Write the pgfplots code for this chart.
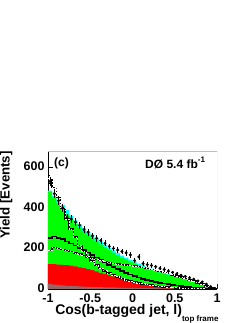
\documentclass[border=0pt]{standalone}
\usepackage{fontspec}
\setmainfont{Liberation Sans}
\usepackage{pgfplots}
\usepackage{pgfplotstable}
\pgfplotsset{compat=1.18}
\definecolor{rgreen}{RGB}{0,255,0}
\definecolor{rred}{RGB}{255,0,0}
\definecolor{rcyan}{RGB}{0,255,255}
\definecolor{rbrown}{RGB}{150,100,100}
\definecolor{framegray}{RGB}{190,190,190}

\pgfplotstableread{
x T G R B L1 L2 L3
-1.00 485 480 122 25 545 250 190
-0.95 460 452 122 22 500 258 205
-0.90 440 425 120 20 450 252 200
-0.85 415 395 119 18 400 245 195
-0.80 390 368 118 16 345 235 190
-0.75 362 342 115 15 295 225 185
-0.70 338 320 112 14 255 214 178
-0.65 318 302 107 13 215 203 172
-0.60 300 285 103 12 185 192 165
-0.55 283 269 98 11 160 180 158
-0.50 268 255 93 10 138 168 152
-0.45 250 237 87 9.5 118 155 146
-0.40 232 220 80 9 102 143 140
-0.35 218 206 74 8.5 90 130 135
-0.30 204 193 68 8 78 118 130
-0.25 190 179 62 7.5 68 108 126
-0.20 177 167 57 7 60 98 122
-0.15 165 155 52 6.5 52 89 120
-0.10 155 146 46 6 45 80 118
-0.05 144 135 41 5.5 40 72 116
0.00 134 126 36 5 35 65 114
0.05 125 117 32 4.8 30 57 110
0.10 117 110 27 4.5 26 50 106
0.15 108 101 23 4.2 22 45 102
0.20 100 93 20 4 19 40 97
0.25 94 88 17 3.7 16 35 92
0.30 88 82 14 3.4 13 31 87
0.35 82 76 11 3.1 11 27 82
0.40 76 71 9 2.8 9 24 76
0.45 70 65 7 2.5 7 20 70
0.50 64 60 5 2.2 6 17 64
0.55 58 54 4 2 5 14 58
0.60 52 48 3 1.7 4 12 51
0.65 46 43 2 1.5 3 9 45
0.70 40 37 1.5 1.2 2 7 38
0.75 34 32 1.1 1 1.5 5 31
0.80 27 25 0.8 0.7 1 4 24
0.85 18 17 0.5 0.5 0.5 2 15
0.90 8 7 0.3 0.3 0.3 1 7
0.95 3 3 0.1 0.1 0.1 0.5 2
1.00 3 3 0.1 0.1 0.1 0.5 2
}\mc

\pgfplotstableread{
x y ey
-0.975 530 23
-0.925 470 22
-0.875 436 21
-0.825 400 20
-0.775 352 19
-0.725 345 19
-0.675 330 18
-0.625 314 18
-0.575 292 17
-0.525 280 17
-0.475 262 16
-0.425 250 16
-0.375 238 15
-0.325 225 15
-0.275 210 14
-0.225 200 14
-0.175 192 14
-0.125 185 14
-0.075 178 13
-0.025 168 13
0.025 140 12
0.075 158 13
0.125 125 11
0.175 120 11
0.225 116 11
0.275 110 10
0.325 102 10
0.375 96 10
0.425 88 9
0.475 82 9
0.525 75 9
0.575 68 8
0.625 62 8
0.675 55 7
0.725 48 7
0.775 40 6
0.825 35 6
0.875 24 5
0.925 12 3.5
0.975 3 2
}\data

\begin{document}
\begin{tikzpicture}[x=1pt,y=1pt]
\begin{axis}[
  at={(48pt,34pt)}, anchor=south west,
  scale only axis, width=169pt, height=138pt,
  xmin=-1, xmax=1, ymin=0, ymax=680,
  axis x line*=bottom, axis y line*=left,
  axis line style={black, line width=0.6pt},
  tick align=inside,
  major tick length=5pt, minor tick length=2.5pt,
  tick style={black, line width=0.5pt},
  xtick={-1,-0.5,0,0.5,1}, xticklabels={-1,-0.5,0,0.5,1},
  ytick={0,200,400,600}, yticklabels={0,200,400,600},
  minor x tick num=4, minor y tick num=4,
  tick label style={font=\bfseries\fontsize{12.5}{12.5}\selectfont},
  xticklabel style={yshift=-1pt},
  yticklabel style={xshift=0pt, yshift=1pt},
  xlabel={\bfseries\fontsize{14}{14}\selectfont Cos(b-tagged jet, l)\raisebox{-0.45em}{\fontsize{8}{8}\selectfont top frame}},
  xlabel style={at={(axis description cs:1.01,0)}, anchor=north east, yshift=-15.5pt, inner sep=0pt},
  ylabel={\bfseries\fontsize{13.3}{13.3}\selectfont Yield [Events]},
  ylabel style={at={(axis description cs:-0.21,1)}, anchor=south east, inner sep=0pt},
  clip=true,
]
\addplot[const plot, fill=rcyan, draw=none] table[x=x,y=T]{\mc} \closedcycle;
\addplot[const plot, fill=rgreen, draw=none] table[x=x,y=G]{\mc} \closedcycle;
\addplot[const plot, fill=rred, draw=none] table[x=x,y=R]{\mc} \closedcycle;
\addplot[const plot, fill=rbrown, draw=none] table[x=x,y=B]{\mc} \closedcycle;
\addplot[const plot, black, line width=1.6pt] table[x=x,y=L2]{\mc};
\addplot[const plot, black, line width=1.6pt] table[x=x,y=L3]{\mc};
\addplot[const plot, white, line width=0.7pt, dash pattern=on 1.6pt off 1.6pt] table[x=x,y=L3]{\mc};
\addplot[const plot, black, line width=1.6pt] table[x=x,y=L1]{\mc};
\addplot[const plot, white, line width=0.7pt, dash pattern=on 1.6pt off 1.6pt] table[x=x,y=L1]{\mc};
\addplot[only marks, mark=*, mark size=1.3pt, black,
  error bars/.cd, y dir=both, y explicit, error bar style={black, line width=0.6pt}, error mark=none]
  table[x=x,y=y,y error=ey]{\data};
\draw[framegray, line width=0.8pt] (rel axis cs:0,1) -- (rel axis cs:1,1) -- (rel axis cs:1,0);
\node[anchor=west, inner sep=0pt] at (rel axis cs:0.035,0.91) {\bfseries\fontsize{12}{12}\selectfont (c)};
\node[anchor=east, inner sep=0pt] at (rel axis cs:0.93,0.91) {\bfseries\fontsize{12}{12}\selectfont DØ 5.4 fb\raisebox{0.5em}{\fontsize{8}{8}\selectfont -1}};
\end{axis}
\pgfresetboundingbox
\path[use as bounding box] (0,0) rectangle (249,323);
\end{tikzpicture}
\end{document}
